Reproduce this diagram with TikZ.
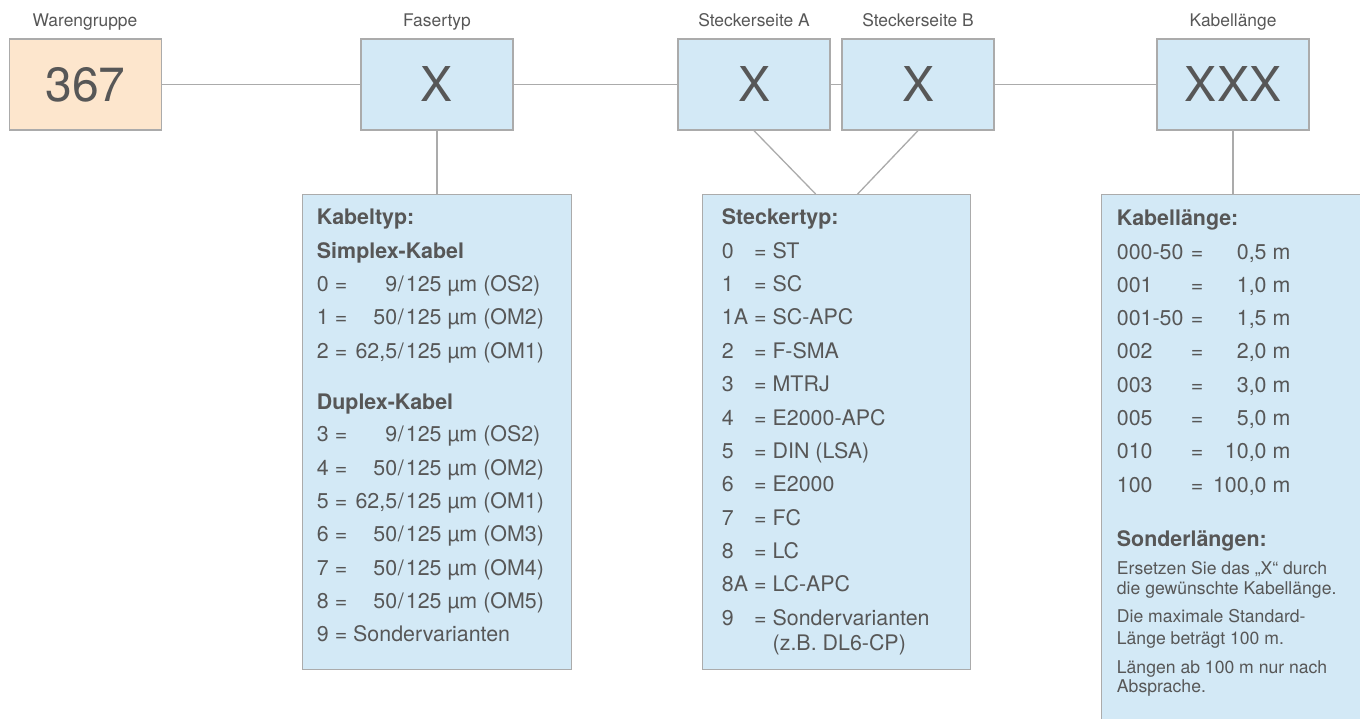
\documentclass[tikz,border=0pt]{standalone}
\usepackage{fontspec}
\setmainfont{TeX Gyre Heros}
\usetikzlibrary{calc}
\definecolor{txtc}{HTML}{575757}
\definecolor{linec}{HTML}{ABABAB}
\definecolor{bluef}{HTML}{D3E9F6}
\definecolor{orangef}{HTML}{FDE6CD}
\newcommand\fibline[3]{\makebox[36.3pt][l]{#1 =}\makebox[44pt][r]{#2}\kern0.6pt/\kern2.2pt125 µm (#3)}
\newcommand\stline[2]{\makebox[32.3pt][l]{#1}= #2}
\newcommand\klline[2]{\makebox[74pt][l]{#1}=\makebox[87pt][r]{#2 m}}
\begin{document}
\begin{tikzpicture}[x=1pt,y=-1pt,
  every node/.style={text=txtc},
  topbox/.style={draw=linec, line width=1.3pt, fill=bluef, minimum width=152pt, minimum height=91pt, inner sep=0pt, font=\fontsize{48}{50}\selectfont},
  toplabel/.style={anchor=base, inner sep=0pt, font=\fontsize{17.4}{20}\selectfont},
  detbox/.style={draw=linec, line width=1.3pt, fill=bluef, anchor=north west, inner sep=0pt},
  ln/.style={anchor=base west, inner sep=0pt, font=\fontsize{21.4}{25}\selectfont},
  hd/.style={anchor=base west, inner sep=0pt, font=\fontsize{21.4}{25}\selectfont\bfseries},
  sm/.style={anchor=base west, inner sep=0pt, font=\fontsize{17.6}{20}\selectfont},
  conn/.style={draw=linec, line width=1.3pt}
]
\useasboundingbox (0,0) rectangle (1360,719);
\fill[white] (0,0) rectangle (1360,719);
\clip (0,0) rectangle (1360,719);

% top row
\node[topbox, fill=orangef] (wg) at (85.5,84.5) {367};
\node[topbox] (ft) at (437,84.5) {X};
\node[topbox] (sa) at (754,84.5) {X};
\node[topbox] (sb) at (918,84.5) {X};
\node[topbox] (kl) at (1233,84.5) {XXX};

\node[toplabel] (wgl) at (85,27) {Warengruppe};
\node[toplabel] (ftl) at (437,27) {Fasertyp};
\node[toplabel] (sal) at (754,27) {Steckerseite A};
\node[toplabel] (sbl) at (918,27) {Steckerseite B};
\node[toplabel] (kll) at (1233,27) {Kabellänge};

% detail boxes
\node[detbox, minimum width=269pt, minimum height=475pt] (kt) at (302,194) {};
\node[detbox, minimum width=268pt, minimum height=475pt] (st) at (702,194) {};
\node[detbox, minimum width=290pt, minimum height=560pt] (klb) at (1101,194) {};

% connectors
\draw[conn] (wg.east) -- (ft.west);
\draw[conn] (ft.east) -- (sa.west);
\draw[conn] (sa.east) -- (sb.west);
\draw[conn] (sb.east) -- (kl.west);
\draw[conn] (ft.south) -- (ft.south |- kt.north);
\draw[conn] (sa.south) -- ($(st.north)+(-21,0)$);
\draw[conn] (sb.south) -- ($(st.north)+(21,0)$);
\draw[conn] (kl.south) -- (kl.south |- klb.north);

% Kabeltyp
\node[hd] (kt1) at (316.7,225) {Kabeltyp:};
\node[hd] (kt2) at (316.7,258.3) {Simplex-Kabel};
\node[ln] (kt3) at (316.7,291.7) {\fibline{0}{9}{OS2}};
\node[ln] (kt4) at (316.7,325) {\fibline{1}{50}{OM2}};
\node[ln] (kt5) at (316.7,358.3) {\fibline{2}{62,5}{OM1}};
\node[hd] (kt6) at (316.7,409.3) {Duplex-Kabel};
\node[ln] (kt7) at (316.7,441.7) {\fibline{3}{9}{OS2}};
\node[ln] (kt8) at (316.7,475) {\fibline{4}{50}{OM2}};
\node[ln] (kt9) at (316.7,508.3) {\fibline{5}{62,5}{OM1}};
\node[ln] (kt10) at (316.7,541.7) {\fibline{6}{50}{OM3}};
\node[ln] (kt11) at (316.7,575) {\fibline{7}{50}{OM4}};
\node[ln] (kt12) at (316.7,608.3) {\fibline{8}{50}{OM5}};
\node[ln] (kt13) at (316.7,641.7) {9 = Sondervarianten};

% Steckertyp
\node[hd] (st1) at (721.7,225) {Steckertyp:};
\node[ln] (st2) at (721.7,258.3) {\stline{0}{ST}};
\node[ln] (st3) at (721.7,291.7) {\stline{1}{SC}};
\node[ln] (st4) at (721.7,325) {\stline{1A}{SC-APC}};
\node[ln] (st5) at (721.7,358.3) {\stline{2}{F-SMA}};
\node[ln] (st6) at (721.7,391.7) {\stline{3}{MTRJ}};
\node[ln] (st7) at (721.7,425) {\stline{4}{E2000-APC}};
\node[ln] (st8) at (721.7,458.3) {\stline{5}{DIN (LSA)}};
\node[ln] (st9) at (721.7,491.7) {\stline{6}{E2000}};
\node[ln] (st10) at (721.7,525) {\stline{7}{FC}};
\node[ln] (st11) at (721.7,558.3) {\stline{8}{LC}};
\node[ln] (st12) at (721.7,591.7) {\stline{8A}{LC-APC}};
\node[ln] (st13) at (721.7,625) {\stline{9}{Sondervarianten}};
\node[ln] (st14) at (772.5,650) {(z.B. DL6-CP)};

% Kabellaenge
\node[hd] (kb1) at (1116.7,226) {Kabellänge:};
\node[ln] (kb2) at (1116.7,259.3) {\klline{000-50}{0,5}};
\node[ln] (kb3) at (1116.7,292.5) {\klline{001}{1,0}};
\node[ln] (kb4) at (1116.7,325.8) {\klline{001-50}{1,5}};
\node[ln] (kb5) at (1116.7,359) {\klline{002}{2,0}};
\node[ln] (kb6) at (1116.7,392.3) {\klline{003}{3,0}};
\node[ln] (kb7) at (1116.7,425.5) {\klline{005}{5,0}};
\node[ln] (kb8) at (1116.7,458.8) {\klline{010}{10,0}};
\node[ln] (kb9) at (1116.7,492) {\klline{100}{100,0}};
\node[hd] (kb10) at (1116.7,546) {Sonderlängen:};
\node[sm] (kb11) at (1116.7,574) {Ersetzen Sie das „X“ durch};
\node[sm] (kb12) at (1116.7,594.3) {die gewünschte Kabellänge.};
\node[sm] (kb13) at (1116.7,622.3) {Die maximale Standard-};
\node[sm] (kb14) at (1116.7,644) {Länge beträgt 100 m.};
\node[sm] (kb15) at (1116.7,673.3) {Längen ab 100 m nur nach};
\node[sm] (kb16) at (1116.7,692.3) {Absprache.};
\end{tikzpicture}
\end{document}
